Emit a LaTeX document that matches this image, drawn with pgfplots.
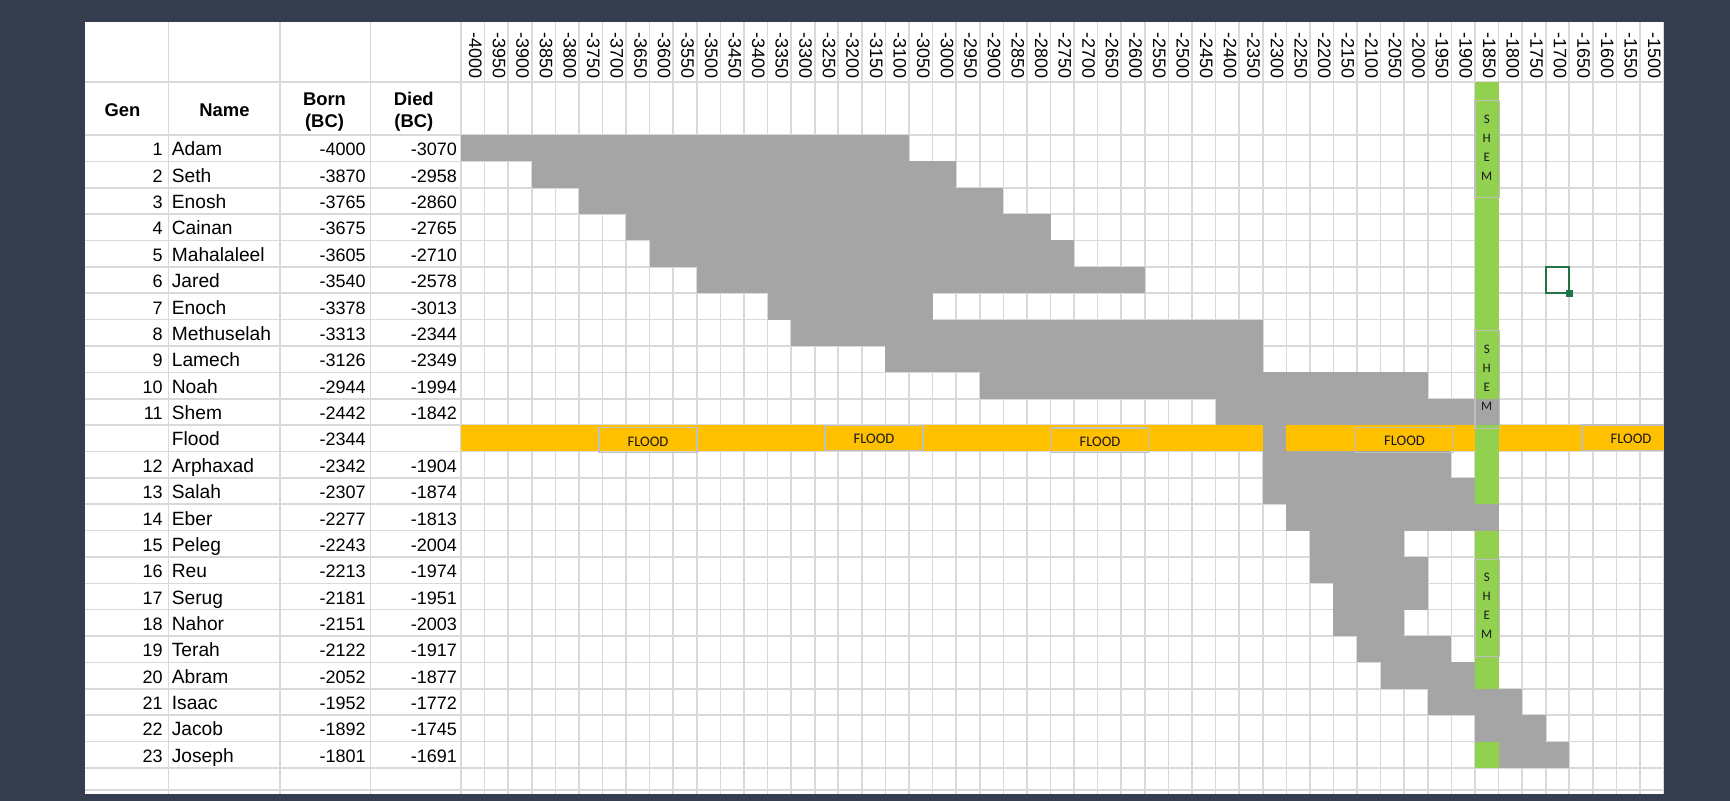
\documentclass[border=0pt]{standalone}
\usepackage{fontspec}
\setmainfont{Liberation Sans}
\newfontfamily\calib{Carlito}
\usepackage{pgfplots}
\pgfplotsset{compat=1.18}
\usepackage{pgfplotstable}

\definecolor{bgdark}{HTML}{343E4F}
\definecolor{gridgray}{HTML}{D9D9D9}
\definecolor{bargray}{HTML}{A5A5A5}
\definecolor{floodor}{HTML}{FFC000}
\definecolor{shemgr}{HTML}{92D050}
\definecolor{boxgray}{HTML}{BFBFBF}
\definecolor{xlgreen}{HTML}{217346}

\newcommand\tabfont{\fontsize{9}{10.8}\selectfont}
\newcommand\namefont{\fontsize{9.6}{11}\selectfont}
\tikzset{
  tab/.style={font=\tabfont, inner sep=0pt, text=black},
  ntab/.style={font=\namefont, inner sep=0pt, text=black},
  hdr/.style={font=\fontsize{9.2}{11}\selectfont\bfseries, inner sep=0pt, anchor=base},
  yearlab/.style={xshift=1.3pt, rotate=-90, anchor=east, inner sep=0pt, font=\tabfont},
  floodlab/.style={font=\calib\fontsize{7.3}{8}\selectfont, inner sep=0pt, text=black!90},
  shemlab/.style={font=\calib\fontsize{6.5}{9.5}\selectfont, inner sep=0pt, align=center, text=black!90},
  tbox/.style={draw=boxgray, line width=0.6pt}
}

% row index (Flood counted as row 12), generation, name, born, died
\pgfplotstableread{
r gen name born died
1 1 Adam -4000 -3070
2 2 Seth -3870 -2958
3 3 Enosh -3765 -2860
4 4 Cainan -3675 -2765
5 5 Mahalaleel -3605 -2710
6 6 Jared -3540 -2578
7 7 Enoch -3378 -3013
8 8 Methuselah -3313 -2344
9 9 Lamech -3126 -2349
10 10 Noah -2944 -1994
11 11 Shem -2442 -1842
12 {} Flood -2344 {}
13 12 Arphaxad -2342 -1904
14 13 Salah -2307 -1874
15 14 Eber -2277 -1813
16 15 Peleg -2243 -2004
17 16 Reu -2213 -1974
18 17 Serug -2181 -1951
19 18 Nahor -2151 -2003
20 19 Terah -2122 -1917
21 20 Abram -2052 -1877
22 21 Isaac -1952 -1772
23 22 Jacob -1892 -1745
24 23 Joseph -1801 -1691
}\people

% filled cell ranges (outer cell edges, year axis), one segment per row
\pgfplotstableread{
x y
-4025 1
-3075 1
nan nan
-3875 2
-2975 2
nan nan
-3775 3
-2875 3
nan nan
-3675 4
-2775 4
nan nan
-3625 5
-2725 5
nan nan
-3525 6
-2575 6
nan nan
-3375 7
-3025 7
nan nan
-3325 8
-2325 8
nan nan
-3125 9
-2325 9
nan nan
-2925 10
-1975 10
nan nan
-2425 11
-1825 11
nan nan
-2325 12
-2275 12
nan nan
-2325 13
-1925 13
nan nan
-2325 14
-1875 14
nan nan
-2275 15
-1825 15
nan nan
-2225 16
-2025 16
nan nan
-2225 17
-1975 17
nan nan
-2175 18
-1975 18
nan nan
-2175 19
-2025 19
nan nan
-2125 20
-1925 20
nan nan
-2075 21
-1875 21
nan nan
-1975 22
-1775 22
nan nan
-1875 23
-1725 23
nan nan
-1825 24
-1675 24
}\graybars

\begin{document}
\begin{tikzpicture}
\fill[bgdark] (0,0) rectangle (865pt,400.5pt);
\begin{axis}[
  at={(42.5pt,3.5pt)}, anchor=south west,
  x=0.2358pt, y=13.185pt, y dir=reverse,
  xmin=-4822.3, xmax=-1475, ymin=-3.785, ymax=25.49,
  axis background/.style={fill=white},
  axis line style={draw=none},
  major tick length=0pt,
  xtick={-4645.6,-4408.8,-4216.5,-4025,-3975,-3925,-3875,-3825,-3775,-3725,-3675,-3625,-3575,-3525,-3475,-3425,-3375,-3325,-3275,-3225,-3175,-3125,-3075,-3025,-2975,-2925,-2875,-2825,-2775,-2725,-2675,-2625,-2575,-2525,-2475,-2425,-2375,-2325,-2275,-2225,-2175,-2125,-2075,-2025,-1975,-1925,-1875,-1825,-1775,-1725,-1675,-1625,-1575,-1525,-1475},
  ytick={-1.51,0.5,1.5,2.5,3.5,4.5,5.5,6.5,7.5,8.5,9.5,10.5,11.5,12.5,13.5,14.5,15.5,16.5,17.5,18.5,19.5,20.5,21.5,22.5,23.5,24.5,25.34},
  xticklabels={}, yticklabels={},
  grid=major,
  grid style={gridgray, line width=0.8pt},
  clip=false,
]
% green column (-1850)
\addplot[shemgr, line width=11.79pt, line cap=butt, mark=none, forget plot]
  coordinates {(-1850,-1.51) (-1850,24.5)};
% lifespans
\addplot[bargray, line width=13.185pt, line cap=butt, mark=none, unbounded coords=jump, forget plot]
  table[x=x, y=y] {\graybars};
% flood row
\addplot[floodor, line width=13.185pt, line cap=butt, mark=none, unbounded coords=jump, forget plot]
  coordinates {(-4025,12) (-2325,12) (nan,nan) (-2275,12) (-1875,12) (nan,nan) (-1825,12) (-1475,12)};

% table text
\addplot[draw=none, mark=none, nodes near coords, point meta=explicit symbolic,
  nodes near coords style={tab, anchor=base east}]
  table[x expr=-4657, y expr=\thisrow{r}+0.29, meta=gen] {\people};
\addplot[draw=none, mark=none, nodes near coords, point meta=explicit symbolic,
  nodes near coords style={ntab, anchor=base west}]
  table[x expr=-4639, y expr=\thisrow{r}+0.29, meta=name] {\people};
\addplot[draw=none, mark=none, nodes near coords, point meta=explicit symbolic,
  nodes near coords style={tab, anchor=base east}]
  table[x expr=-4226.4, y expr=\thisrow{r}+0.29, meta=born] {\people};
\addplot[draw=none, mark=none, nodes near coords, point meta=explicit symbolic,
  nodes near coords style={tab, anchor=base east}]
  table[x expr=-4032.8, y expr=\thisrow{r}+0.29, meta=died] {\people};

% headers
\node[hdr] at (axis cs:-4742.8,-0.2) {Gen};
\node[hdr] at (axis cs:-4526.5,-0.2) {Name};
\node[hdr] at (axis cs:-4314.4,-0.626) {Born};
\node[hdr] at (axis cs:-4314.4,0.23) {(BC)};
\node[hdr] at (axis cs:-4125.1,-0.626) {Died};
\node[hdr] at (axis cs:-4125.1,0.23) {(BC)};

% year labels
\pgfplotsinvokeforeach{-4000,-3950,...,-1500}{
  \node[yearlab] at (axis cs:#1,-1.624) {#1};
}

% FLOOD text boxes
\draw[tbox] (axis cs:-3732.4,11.60) rectangle (axis cs:-3524.6,12.548);
\node[floodlab] at (axis cs:-3628.5,12.131) {FLOOD};
\draw[tbox] (axis cs:-3253.2,11.509) rectangle (axis cs:-3045.4,12.472);
\node[floodlab] at (axis cs:-3149.3,12.021) {FLOOD};
\draw[tbox] (axis cs:-2772.9,11.611) rectangle (axis cs:-2567.0,12.548);
\node[floodlab] at (axis cs:-2670.1,12.12) {FLOOD};
\draw[tbox] (axis cs:-2128.3,11.60) rectangle (axis cs:-1920.5,12.548);
\node[floodlab] at (axis cs:-2024.4,12.115) {FLOOD};
\draw[tbox] (axis cs:-1475,11.50) -- (axis cs:-1648.0,11.50) -- (axis cs:-1648.0,12.472) -- (axis cs:-1475,12.472);
\node[floodlab] at (axis cs:-1544.1,12.017) {FLOOD};

% SHEM text boxes
\draw[tbox] (axis cs:-1875,-0.801) rectangle (axis cs:-1823,2.878);
\node[shemlab] at (axis cs:-1850,0.974) {S\\H\\E\\M};
\draw[tbox] (axis cs:-1875,7.921) rectangle (axis cs:-1823,11.623);
\node[shemlab] at (axis cs:-1850,9.704) {S\\H\\E\\M};
\draw[tbox] (axis cs:-1875,16.590) rectangle (axis cs:-1823,20.284);
\node[shemlab] at (axis cs:-1850,18.369) {S\\H\\E\\M};

% selected cell
\draw[xlgreen, line width=1.2pt] (axis cs:-1725,5.5) rectangle (axis cs:-1675,6.5);
\fill[xlgreen] (axis cs:-1675,6.5) ++(-1.7pt,-1.7pt) rectangle ++(3.4pt,3.4pt);
\end{axis}
\pgfresetboundingbox
\path[use as bounding box] (0,0) rectangle (865pt,400.5pt);
\end{tikzpicture}
\end{document}
